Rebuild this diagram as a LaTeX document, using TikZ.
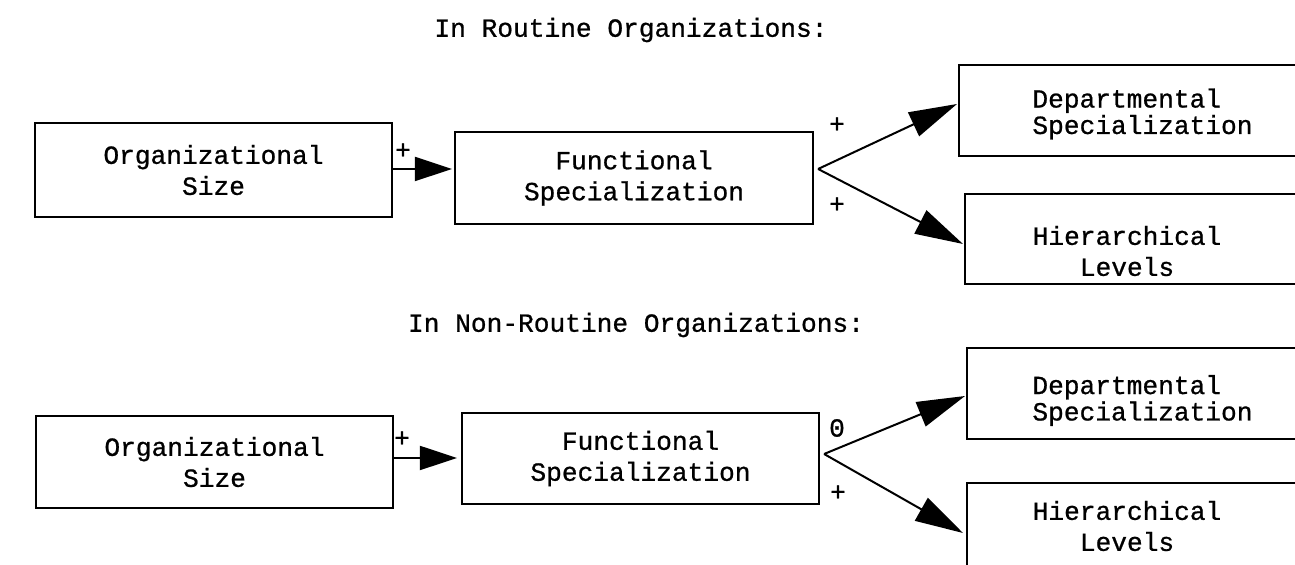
\documentclass[tikz,border=0pt]{standalone}
\usepackage{fontspec}
\setmainfont{Liberation Mono}[FakeBold=0.8]
\usetikzlibrary{arrows.meta,calc}
\begin{document}
\begin{tikzpicture}[x=0.5pt,y=-0.5pt,
  txt/.style={inner sep=0pt, font=\fontsize{13.1}{15.5}\selectfont},
  tighttxt/.style={inner sep=0pt, font=\fontsize{13.1}{12}\selectfont},
  box/.style={draw, line width=1.1pt, inner sep=0pt, align=center,
    font=\fontsize{13.1}{15.5}\selectfont},
  frame/.style={draw, line width=1.1pt, inner sep=0pt, anchor=north west,
    minimum width=220pt},
  sign/.style={inner sep=0pt, font=\fontsize{13.1}{15}\selectfont},
  flow/.style={line width=1pt, -{Triangle[length=18.5pt,width=12pt]}},
  branch/.style={line width=1pt, -{Triangle[length=24pt,width=13pt]}}]
\useasboundingbox (0,0) rectangle (1295,565);
\clip (0,0) rectangle (1295,565);

% ---------- routine organizations ----------
\node[txt] (t1) at (631,30) {In Routine Organizations:};

\node[box, minimum width=178.5pt, minimum height=47pt] (os1) at (213.5,170)
  {Organizational\\Size};
\node[box, minimum width=179pt, minimum height=46pt] (fs1) at (634,178)
  {Functional\\Specialization};
\node[frame, minimum height=45.5pt] (ds1) at (958,64) {};
\node[tighttxt, align=left, anchor=west] (ds1t) at (1032,114)
  {Departmental\\Specialization};
\node[frame, minimum height=45pt] (hl1) at (964,193) {};
\node[txt, align=center] (hl1t) at (1127,251) {Hierarchical\\Levels};

\draw[flow] ($(os1.east)+(0,-1)$) -- ($(os1.east -| fs1.west)+(-2,-1)$);
\coordinate (f1) at ($(fs1.east)+(4,-9)$);
\draw[branch] (f1) -- ($(ds1.north west)+(-1,40)$);
\draw[branch] (f1) -- ($(hl1.north west)+(-1,51)$);

\node[sign] (p1) at (403,151) {+};
\node[sign] (p2) at (837,125) {+};
\node[sign] (p3) at (837,205) {+};

% ---------- non-routine organizations ----------
\node[txt] (t2) at (636,325) {In Non-Routine Organizations:};

\node[box, minimum width=178.5pt, minimum height=46pt] (os2) at (214.5,462)
  {Organizational\\Size};
\node[box, minimum width=178.5pt, minimum height=45.5pt] (fs2) at (640.5,458.5)
  {Functional\\Specialization};
\node[frame, minimum height=45.5pt] (ds2) at (966,347) {};
\node[tighttxt, align=left, anchor=west] (ds2t) at (1032,400.5)
  {Departmental\\Specialization};
\node[frame, minimum height=65pt] (hl2) at (966,482) {};
\node[txt, align=center] (hl2t) at (1127,526) {Hierarchical\\Levels};

\draw[flow] ($(os2.east)+(0,-4)$) -- ($(os2.east -| fs2.west)+(-4,-4)$);
\coordinate (f2) at ($(fs2.east)+(4,-4.5)$);
\draw[branch] (f2) -- ($(ds2.north west)+(-1,49)$);
\draw[branch] (f2) -- ($(hl2.north west)+(-3,51)$);

\node[sign] (q1) at (402,439) {+};
\node[sign] (q2) at (837,428) {0};
\node[sign] (q3) at (838,493) {+};
\end{tikzpicture}
\end{document}
